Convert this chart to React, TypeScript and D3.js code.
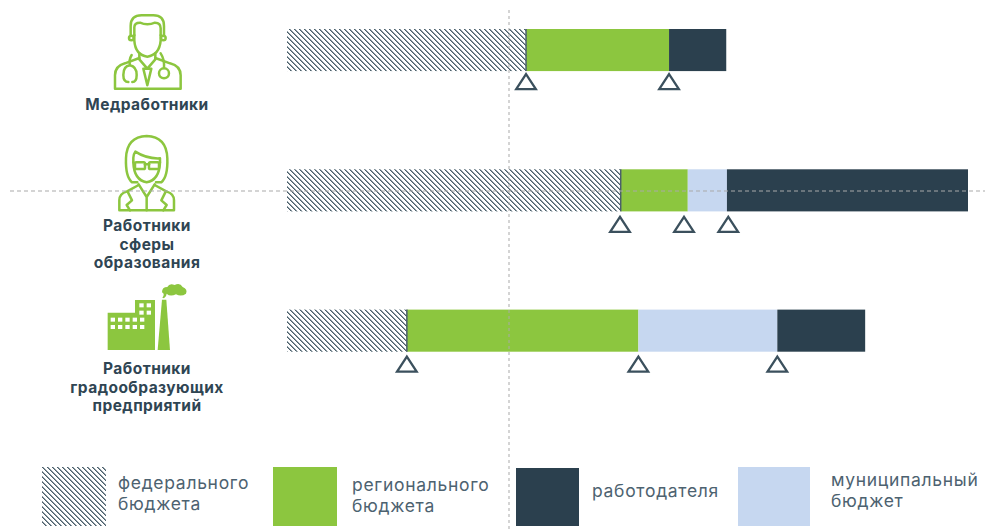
import React from "react";
import * as d3 from "d3";

const WIDTH = 985;
const HEIGHT = 532;
const FONT = "Inter, 'Noto Sans', sans-serif";
const TEXT_DARK = "#2f4553";
const TEXT_LEGEND = "#4d6270";
const GREEN = "#8cc63f";
const NAVY = "#2b404e";
const LIGHT = "#c6d7f0";
const GUIDE = "#a9a9a9";

// Share of each funding source, in percent of the full scale
const federal = [35.1, 49.0, 17.6];
const regional = [21.0, 9.85, 34.0];
const municipal = [0, 5.75, 20.4];
const employer = [8.4, 35.4, 12.9];

// Cumulative positions of the triangular markers under each bar
const markersMed = [35.1, 56.1];
const markersEdu = [48.9, 58.3, 64.8];
const markersInd = [17.6, 51.6, 72.0];

const markerRows = [markersMed, markersEdu, markersInd];
const markerGaps = [3, 5.5, 5];
const rowKeys = ["med", "edu", "ind"];
const rowLabels = [
  ["Медработники"],
  ["Работники", "сферы", "образования"],
  ["Работники", "градообразующих", "предприятий"],
];
const labelBaselines = [110, 231, 374];
const referenceShare = 32.6;

const legendLabels = [
  ["федерального", "бюджета"],
  ["регионального", "бюджета"],
  ["работодателя"],
  ["муниципальный", "бюджет"],
];

const x = d3.scaleLinear().domain([0, 100]).range([287, 968]);
const y = d3.scaleBand<string>().domain(rowKeys).range([29, 351.7]).paddingInner(0.7).paddingOuter(0);
const triangle = d3.line().curve(d3.curveLinearClosed);

const Doctor = () => (
  <g transform="translate(90,0) scale(0.3333)" fill="none" stroke={GREEN} strokeWidth={7.5} strokeLinejoin="round" strokeLinecap="round">
    <path d="M122 108 V78 Q122 46 155 46 H190 Q222 46 222 78 V108" />
    <path d="M133 106 V82 Q133 68 150 68 Q172 78 195 68 Q212 68 212 85 V106" />
    <path d="M133 106 V122 Q136 165 172 170 Q208 165 212 122 V106" />
    <circle cx={124} cy={114} r={7} />
    <circle cx={220} cy={114} r={7} />
    <path d="M148 160 V176 M196 160 V176" />
    <path d="M75 266 V226 Q75 198 105 190 L148 174 M196 174 L240 190 Q272 198 272 226 V266 H75" />
    <path d="M148 178 L172 206 L196 178 M160 206 L172 256 L184 206 Z" />
    <path d="M125 165 Q116 180 120 196 Q100 198 100 225 Q100 246 115 246 M120 196 Q140 200 140 225 Q140 246 127 246" />
    <path d="M212 160 Q224 178 222 204" />
    <circle cx={222} cy={220} r={15} />
  </g>
);

const Teacher = () => (
  <g transform="translate(90,125) scale(0.3333)" fill="none" stroke={GREEN} strokeWidth={7.5} strokeLinejoin="round" strokeLinecap="round">
    <path d="M170 33 Q110 35 108 100 Q106 155 126 172 H142 M170 33 Q230 35 232 100 Q234 155 214 172 H198" />
    <path d="M130 112 V98 Q130 88 136 80 Q170 102 210 100 V112" />
    <path d="M130 112 Q132 165 170 172 Q208 165 210 112" />
    <rect x={135} y={112} width={30} height={20} rx={4} />
    <rect x={177} y={112} width={30} height={20} rx={4} />
    <path d="M165 118 H177" />
    <path d="M88 256 V226 Q88 206 110 200 L146 180 M194 180 L230 200 Q252 206 252 226 V256 H88" />
    <path d="M146 178 L170 216 L194 178 M170 216 V256" />
    <path d="M114 202 L126 226 L110 240 L120 256 M226 202 L214 226 L230 240 L220 256" />
  </g>
);

const lowerWindows = d3.range(5).flatMap((i) => [128, 150].map((wy) => [122 + i * 22, wy]));
const upperWindows = [[208, 85], [230, 85], [208, 107], [230, 107]];

const Factory = () => (
  <g transform="translate(70,275) scale(0.3333)" fill={GREEN}>
    <path d="M113 225 V113 H195 V75 H255 V225 Z" />
    {[...lowerWindows, ...upperWindows].map(([wx, wy]) => (
      <rect key={`${wx}-${wy}`} x={wx} y={wy} width={13} height={12} fill="#fff" />
    ))}
    <path d="M263 225 L276 74 H289 L300 225 Z" />
    <path d="M277 68 Q286 58 276 52 Q276 36 292 36 Q298 24 314 30 Q330 22 338 36 Q354 42 348 56 Q334 66 318 58 Q300 66 290 56 Q290 64 282 70 Z" />
  </g>
);

const icons = [<Doctor key="d" />, <Teacher key="t" />, <Factory key="f" />];

const legendItems = [
  { x: 42, w: 64, y: 467, h: 59, fill: "url(#federalHatch)", tx: 118, base: [489, 510] },
  { x: 273, w: 64, y: 467, h: 59, fill: GREEN, tx: 352, base: [491, 512] },
  { x: 516, w: 63, y: 468, h: 58, fill: NAVY, tx: 592, base: [497] },
  { x: 738, w: 72, y: 467, h: 59, fill: LIGHT, tx: 831, base: [486, 507] },
];

// One tile of the pixel-stepped diagonal hatch
const hatchSteps = d3.range(5);

export default function App() {
  const series = [
    { key: "federal", values: federal, fill: "url(#federalHatch)" },
    { key: "regional", values: regional, fill: GREEN },
    { key: "municipal", values: municipal, fill: LIGHT },
    { key: "employer", values: employer, fill: NAVY },
  ];
  const table = rowKeys.map((k, i) => {
    const row: Record<string, number | string> = { row: k };
    series.forEach((s) => (row[s.key] = s.values[i]));
    return row;
  });
  const stacked = d3.stack<any>().keys(series.map((s) => s.key))(table);

  return (
    <svg width={WIDTH} height={HEIGHT} style={{ position: "absolute", left: 0, top: 0, background: "#fff" }} fontFamily={FONT}>
      <defs>
        <pattern id="federalHatch" width={5} height={5} patternUnits="userSpaceOnUse">
          <rect width={5} height={5} fill="#fff" />
          {hatchSteps.map((i) => (
            <g key={i} shapeRendering="crispEdges">
              <rect x={i} y={i} width={1} height={1} fill="#4b5f6b" />
              <rect x={(i + 1) % 5} y={i} width={1} height={1} fill="#8d9ba3" />
            </g>
          ))}
        </pattern>
      </defs>

      {icons}

      {rowLabels.map((lines, i) =>
        lines.map((line, j) => (
          <text key={line + i} x={147} y={labelBaselines[i] + j * 18.5} textAnchor="middle" fontSize={15.5} letterSpacing={0.45} fontWeight={700} fill={TEXT_DARK}>
            {line}
          </text>
        ))
      )}

      {stacked.map((layer, si) => (
        <g key={layer.key}>
          {layer.map((d, i) =>
            d[1] > d[0] ? (
              <rect key={i} x={x(d[0])} y={y(rowKeys[i])} width={x(d[1]) - x(d[0])} height={y.bandwidth()} fill={series[si].fill} />
            ) : null
          )}
        </g>
      ))}

      {/* Thin divider between the hatched part and the next segment */}
      {federal.map((v, i) => (
        <line key={i} x1={x(v)} x2={x(v)} y1={y(rowKeys[i])} y2={y(rowKeys[i])! + y.bandwidth()} stroke="#4b5f6b" strokeWidth={1.5} />
      ))}

      {markerRows.map((row, i) =>
        row.map((v) => {
          const top = y(rowKeys[i])! + y.bandwidth() + markerGaps[i];
          const px = x(v);
          const d = triangle([[px, top], [px + 9.8, top + 15], [px - 9.8, top + 15]]);
          return <path key={`${i}-${v}`} d={d!} fill="none" stroke="#3b505d" strokeWidth={2.3} strokeLinejoin="miter" />;
        })
      )}

      <line x1={x(referenceShare)} x2={x(referenceShare)} y1={10} y2={HEIGHT} stroke={GUIDE} strokeWidth={1} strokeDasharray="3 3" />
      <line x1={10} x2={WIDTH} y1={191} y2={191} stroke={GUIDE} strokeWidth={1} strokeDasharray="4 3" />

      {legendItems.map((item, i) => (
        <g key={i}>
          <rect x={item.x} y={item.y} width={item.w} height={item.h} fill={item.fill} />
          {legendLabels[i].map((line, j) => (
            <text key={line} x={item.tx} y={item.base[j]} fontSize={17.5} letterSpacing={0.7} fill={TEXT_LEGEND}>
              {line}
            </text>
          ))}
        </g>
      ))}
    </svg>
  );
}
